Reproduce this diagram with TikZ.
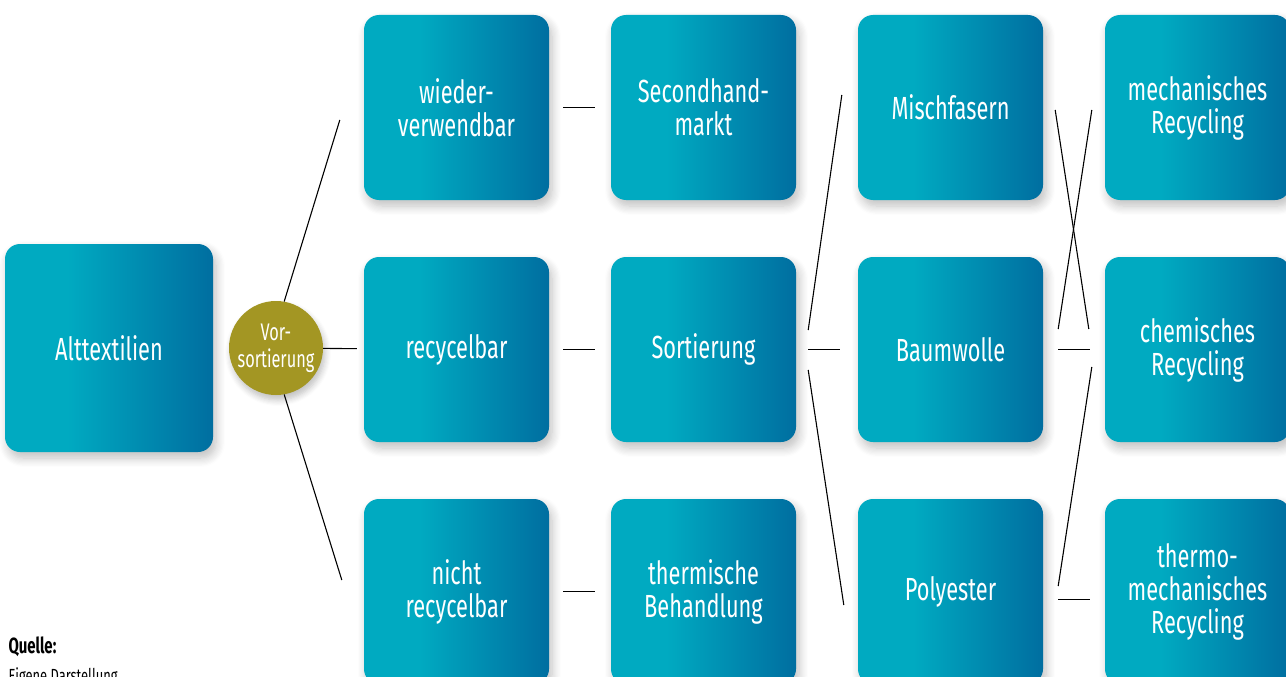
\documentclass[tikz,border=0pt]{standalone}
\usepackage{fontspec}
\setmainfont{Fira Sans}[FakeStretch=0.68]
\usetikzlibrary{shadows.blur}
\definecolor{boxteal}{RGB}{0,170,193}
\definecolor{boxblue}{RGB}{0,110,160}
\definecolor{sortolive}{RGB}{163,150,35}
\pgfdeclarehorizontalshading{boxgrad}{100bp}{color(0bp)=(boxteal); color(25bp)=(boxteal); color(40bp)=(boxteal); color(75bp)=(boxblue); color(100bp)=(boxblue)}
\tikzset{
  box/.style={rounded corners=15pt, minimum size=185pt, inner sep=0pt, align=center,
    text=white, shading=boxgrad, font=\fontsize{32}{33}\selectfont,
    blur shadow={shadow xshift=3pt, shadow yshift=-6pt, shadow blur radius=9pt,
      shadow blur steps=8, shadow opacity=25}},
  sortcircle/.style={circle, fill=sortolive, minimum size=94pt, inner sep=0pt, align=center,
    text=white, font=\fontsize{24}{27}\selectfont,
    blur shadow={shadow xshift=2pt, shadow yshift=-5pt, shadow blur radius=6pt,
      shadow blur steps=6, shadow opacity=25}},
  conn/.style={line width=1.1pt}
}
\begin{document}
\begin{tikzpicture}[x=1pt, y=-1pt]
  \useasboundingbox (0,0) rectangle (1286,677);
  \clip (0,0) rectangle (1286,677);
  \node[box, minimum size=208pt] (alt) at (109,348) {Alttextilien};
  \node[sortcircle] (vs) at (276,348) {Vor-\\sortierung};
  \node[box] (wv) at (456.5,107.5) {wieder-\\verwendbar};
  \node[box] (rc) at (456.5,349.5) {recycelbar};
  \node[box] (nr) at (456.5,591.5) {nicht\\recycelbar};
  \node[box] (sh) at (703.5,107.5) {Secondhand-\\markt};
  \node[box] (so) at (703.5,349.5) {Sortierung};
  \node[box] (th) at (703.5,591.5) {thermische\\Behandlung};
  \node[box] (mi) at (950.5,107.5) {Mischfasern};
  \node[box] (bw) at (950.5,349.5) {Baumwolle};
  \node[box] (po) at (950.5,591.5) {Polyester};
  \node[box] (me) at (1197.5,107.5) {mechanisches\\Recycling};
  \node[box] (ch) at (1197.5,349.5) {chemisches\\Recycling};
  \node[box] (tm) at (1197.5,591.5) {thermo-\\mechanisches\\Recycling};
  \node[anchor=base west, font=\fontsize{22}{24}\bfseries\selectfont] (src) at (5,653) {Quelle:};
  \node[anchor=base west, font=\fontsize{19}{22}\selectfont] (srctext) at (5,682) {Eigene Darstellung};

  \draw[conn] (vs.80) -- ([shift={(-24,12.5)}]wv.west);
  \draw[conn, shorten >=7pt] (vs) -- (rc);
  \draw[conn] (vs.-80) -- ([shift={(-22,-11.5)}]nr.west);

  \draw[conn, shorten <=14pt, shorten >=16pt] (wv) -- (sh);
  \draw[conn, shorten <=14pt, shorten >=16pt] (rc) -- (so);
  \draw[conn, shorten <=14pt, shorten >=16pt] (nr) -- (th);

  \draw[conn] ([shift={(12,-19.5)}]so.east) -- ([shift={(-16,-12.5)}]mi.west);
  \draw[conn, shorten <=12pt, shorten >=18pt] (so) -- (bw);
  \draw[conn] ([shift={(12,20.5)}]so.east) -- ([shift={(-14,13.5)}]po.west);

  \draw[conn] ([shift={(12,2.5)}]mi.east) -- ([shift={(-16,-20.5)}]ch.west);
  \draw[conn] ([shift={(15,-20.5)}]bw.east) -- ([shift={(-13,2.5)}]me.west);
  \draw[conn, shorten <=15pt, shorten >=15pt] (bw) -- (ch);
  \draw[conn] ([shift={(15,-5.5)}]po.east) -- ([shift={(-13,17.5)}]ch.west);
  \draw[conn] ([shift={(15,8)}]po.east) -- ([shift={(-15,8)}]tm.west);
\end{tikzpicture}
\end{document}
